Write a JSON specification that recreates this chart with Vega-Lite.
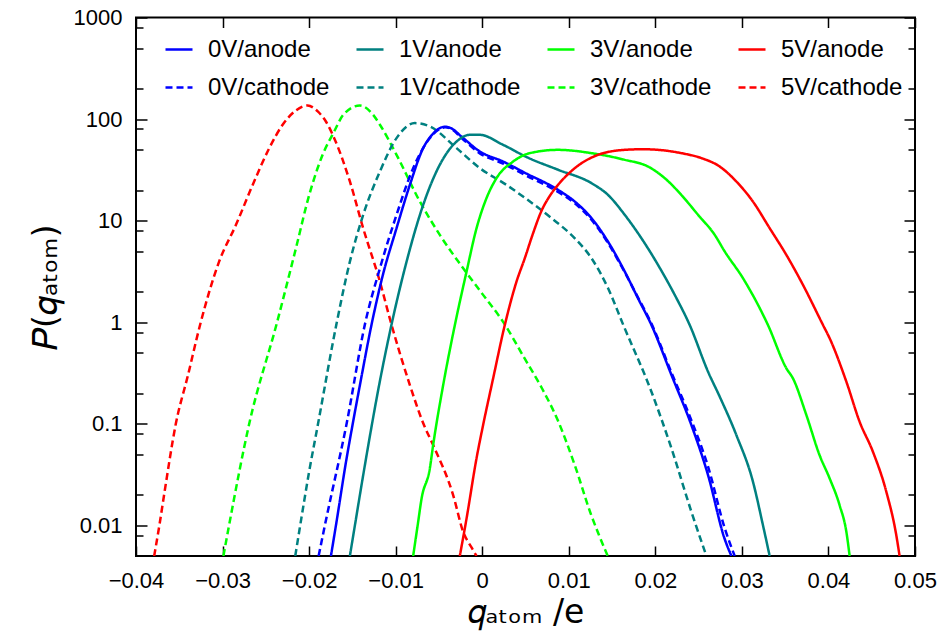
{
  "$schema": "https://vega.github.io/schema/vega-lite/v6.json",
  "autosize": {"type": "none"},
  "width": 779,
  "height": 538.5,
  "padding": {"left": 136, "top": 17.5, "right": 30, "bottom": 80},
  "background": "white",
  "config": {
    "view": {"stroke": "black", "strokeWidth": 2},
    "font": "Liberation Sans",
    "axis": {"grid": false, "domain": false, "labelFont": "Liberation Sans", "labelFontSize": 22, "labelColor": "black", "tickColor": "black", "tickWidth": 1.5, "titleFont": "DejaVu Sans", "titleColor": "black", "titleFontWeight": "normal", "labelFlush": false, "labelOverlap": false, "labelBound": false}
  },
  "datasets": {
    "curves": [
      {"series": "5V/cathode", "q": -0.0379, "P": 0.005},
      {"series": "5V/cathode", "q": -0.0373, "P": 0.01},
      {"series": "5V/cathode", "q": -0.0367, "P": 0.0214},
      {"series": "5V/cathode", "q": -0.0354, "P": 0.1},
      {"series": "5V/cathode", "q": -0.0340, "P": 0.3},
      {"series": "5V/cathode", "q": -0.0326, "P": 0.94},
      {"series": "5V/cathode", "q": -0.0304, "P": 3.95},
      {"series": "5V/cathode", "q": -0.02845, "P": 9.1},
      {"series": "5V/cathode", "q": -0.02652, "P": 22.5},
      {"series": "5V/cathode", "q": -0.0246, "P": 51.8},
      {"series": "5V/cathode", "q": -0.02306, "P": 87.9},
      {"series": "5V/cathode", "q": -0.0215, "P": 122},
      {"series": "5V/cathode", "q": -0.02017, "P": 136},
      {"series": "5V/cathode", "q": -0.0190, "P": 119},
      {"series": "5V/cathode", "q": -0.01806, "P": 94.7},
      {"series": "5V/cathode", "q": -0.0170, "P": 62},
      {"series": "5V/cathode", "q": -0.01529, "P": 24.3},
      {"series": "5V/cathode", "q": -0.01375, "P": 8.4},
      {"series": "5V/cathode", "q": -0.01182, "P": 2.51},
      {"series": "5V/cathode", "q": -0.01056, "P": 1.0},
      {"series": "5V/cathode", "q": -0.00836, "P": 0.241},
      {"series": "5V/cathode", "q": -0.00679, "P": 0.1},
      {"series": "5V/cathode", "q": -0.00567, "P": 0.0618},
      {"series": "5V/cathode", "q": -0.00336, "P": 0.0199},
      {"series": "5V/cathode", "q": -0.0022, "P": 0.00865},
      {"series": "5V/cathode", "q": -0.0012, "P": 0.006},
      {"series": "5V/cathode", "q": -0.00066, "P": 0.005},

      {"series": "3V/cathode", "q": -0.0299, "P": 0.005},
      {"series": "3V/cathode", "q": -0.02925, "P": 0.01},
      {"series": "3V/cathode", "q": -0.02692, "P": 0.1},
      {"series": "3V/cathode", "q": -0.0237, "P": 1.0},
      {"series": "3V/cathode", "q": -0.02152, "P": 5.36},
      {"series": "3V/cathode", "q": -0.01999, "P": 17.9},
      {"series": "3V/cathode", "q": -0.01844, "P": 44.5},
      {"series": "3V/cathode", "q": -0.0171, "P": 75.5},
      {"series": "3V/cathode", "q": -0.01606, "P": 110},
      {"series": "3V/cathode", "q": -0.01413, "P": 136},
      {"series": "3V/cathode", "q": -0.0126, "P": 110},
      {"series": "3V/cathode", "q": -0.01182, "P": 88},
      {"series": "3V/cathode", "q": -0.0099, "P": 44.5},
      {"series": "3V/cathode", "q": -0.0072, "P": 15.4},
      {"series": "3V/cathode", "q": -0.0049, "P": 7.25},
      {"series": "3V/cathode", "q": -0.0022, "P": 3.4},
      {"series": "3V/cathode", "q": 0.0001, "P": 1.86},
      {"series": "3V/cathode", "q": 0.00241, "P": 1.01},
      {"series": "3V/cathode", "q": 0.0049, "P": 0.44},
      {"series": "3V/cathode", "q": 0.0069, "P": 0.224},
      {"series": "3V/cathode", "q": 0.0088, "P": 0.105},
      {"series": "3V/cathode", "q": 0.0107, "P": 0.039},
      {"series": "3V/cathode", "q": 0.0126, "P": 0.0126},
      {"series": "3V/cathode", "q": 0.0135, "P": 0.008},
      {"series": "3V/cathode", "q": 0.0145, "P": 0.005},

      {"series": "1V/cathode", "q": -0.0216, "P": 0.005},
      {"series": "1V/cathode", "q": -0.02103, "P": 0.01},
      {"series": "1V/cathode", "q": -0.0200, "P": 0.0337},
      {"series": "1V/cathode", "q": -0.01897, "P": 0.1},
      {"series": "1V/cathode", "q": -0.0168, "P": 1.0},
      {"series": "1V/cathode", "q": -0.01529, "P": 3.95},
      {"series": "1V/cathode", "q": -0.01375, "P": 11.4},
      {"series": "1V/cathode", "q": -0.01182, "P": 30.5},
      {"series": "1V/cathode", "q": -0.0099, "P": 65},
      {"series": "1V/cathode", "q": -0.00778, "P": 91.3},
      {"series": "1V/cathode", "q": -0.00605, "P": 84.6},
      {"series": "1V/cathode", "q": -0.00297, "P": 51.8},
      {"series": "1V/cathode", "q": -0.00028, "P": 32.9},
      {"series": "1V/cathode", "q": 0.0028, "P": 22.5},
      {"series": "1V/cathode", "q": 0.0050, "P": 16.6},
      {"series": "1V/cathode", "q": 0.0080, "P": 10.6},
      {"series": "1V/cathode", "q": 0.0107, "P": 6.7},
      {"series": "1V/cathode", "q": 0.01262, "P": 4.27},
      {"series": "1V/cathode", "q": 0.01454, "P": 2.16},
      {"series": "1V/cathode", "q": 0.0163, "P": 0.94},
      {"series": "1V/cathode", "q": 0.01955, "P": 0.207},
      {"series": "1V/cathode", "q": 0.02186, "P": 0.0574},
      {"series": "1V/cathode", "q": 0.02417, "P": 0.0136},
      {"series": "1V/cathode", "q": 0.0259, "P": 0.005},

      {"series": "0V/anode", "q": -0.01748, "P": 0.005},
      {"series": "0V/anode", "q": -0.0169, "P": 0.01},
      {"series": "0V/anode", "q": -0.01567, "P": 0.0457},
      {"series": "0V/anode", "q": -0.01496, "P": 0.1},
      {"series": "0V/anode", "q": -0.01413, "P": 0.241},
      {"series": "0V/anode", "q": -0.01273, "P": 1.0},
      {"series": "0V/anode", "q": -0.01148, "P": 2.92},
      {"series": "0V/anode", "q": -0.0099, "P": 8.43},
      {"series": "0V/anode", "q": -0.00836, "P": 22.5},
      {"series": "0V/anode", "q": -0.00682, "P": 51.8},
      {"series": "0V/anode", "q": -0.0058, "P": 70},
      {"series": "0V/anode", "q": -0.0049, "P": 81.5},
      {"series": "0V/anode", "q": -0.0043, "P": 84},
      {"series": "0V/anode", "q": -0.0037, "P": 82},
      {"series": "0V/anode", "q": -0.0022, "P": 65},
      {"series": "0V/anode", "q": -0.00028, "P": 48},
      {"series": "0V/anode", "q": 0.00241, "P": 38.2},
      {"series": "0V/anode", "q": 0.0050, "P": 29.4},
      {"series": "0V/anode", "q": 0.00876, "P": 20.1},
      {"series": "0V/anode", "q": 0.0107, "P": 15.4},
      {"series": "0V/anode", "q": 0.01262, "P": 10.6},
      {"series": "0V/anode", "q": 0.01454, "P": 6.2},
      {"series": "0V/anode", "q": 0.01647, "P": 3.15},
      {"series": "0V/anode", "q": 0.018, "P": 1.72},
      {"series": "0V/anode", "q": 0.01955, "P": 0.94},
      {"series": "0V/anode", "q": 0.02186, "P": 0.303},
      {"series": "0V/anode", "q": 0.02417, "P": 0.097},
      {"series": "0V/anode", "q": 0.02609, "P": 0.0313},
      {"series": "0V/anode", "q": 0.028, "P": 0.0074},
      {"series": "0V/anode", "q": 0.02879, "P": 0.005},

      {"series": "0V/cathode", "q": -0.0189, "P": 0.005},
      {"series": "0V/cathode", "q": -0.01818, "P": 0.01},
      {"series": "0V/cathode", "q": -0.01567, "P": 0.1},
      {"series": "0V/cathode", "q": -0.0135, "P": 1.0},
      {"series": "0V/cathode", "q": -0.01182, "P": 3.4},
      {"series": "0V/cathode", "q": -0.0099, "P": 11.4},
      {"series": "0V/cathode", "q": -0.00798, "P": 32.9},
      {"series": "0V/cathode", "q": -0.00605, "P": 65},
      {"series": "0V/cathode", "q": -0.0051, "P": 78},
      {"series": "0V/cathode", "q": -0.0043, "P": 83},
      {"series": "0V/cathode", "q": -0.0037, "P": 81},
      {"series": "0V/cathode", "q": -0.0022, "P": 63},
      {"series": "0V/cathode", "q": -0.00028, "P": 46},
      {"series": "0V/cathode", "q": 0.00241, "P": 36.5},
      {"series": "0V/cathode", "q": 0.0050, "P": 28},
      {"series": "0V/cathode", "q": 0.00876, "P": 19.2},
      {"series": "0V/cathode", "q": 0.0107, "P": 14.8},
      {"series": "0V/cathode", "q": 0.01262, "P": 10.2},
      {"series": "0V/cathode", "q": 0.01454, "P": 6.0},
      {"series": "0V/cathode", "q": 0.01647, "P": 3.1},
      {"series": "0V/cathode", "q": 0.018, "P": 1.75},
      {"series": "0V/cathode", "q": 0.01955, "P": 0.97},
      {"series": "0V/cathode", "q": 0.02186, "P": 0.32},
      {"series": "0V/cathode", "q": 0.02417, "P": 0.108},
      {"series": "0V/cathode", "q": 0.02609, "P": 0.038},
      {"series": "0V/cathode", "q": 0.028, "P": 0.0095},
      {"series": "0V/cathode", "q": 0.02917, "P": 0.005},

      {"series": "1V/anode", "q": -0.01529, "P": 0.005},
      {"series": "1V/anode", "q": -0.01471, "P": 0.01},
      {"series": "1V/anode", "q": -0.01375, "P": 0.0313},
      {"series": "1V/anode", "q": -0.01273, "P": 0.1},
      {"series": "1V/anode", "q": -0.0122, "P": 0.178},
      {"series": "1V/anode", "q": -0.01042, "P": 1.0},
      {"series": "1V/anode", "q": -0.00874, "P": 3.95},
      {"series": "1V/anode", "q": -0.00682, "P": 14.3},
      {"series": "1V/anode", "q": -0.0049, "P": 35.5},
      {"series": "1V/anode", "q": -0.00297, "P": 60},
      {"series": "1V/anode", "q": -0.00143, "P": 70},
      {"series": "1V/anode", "q": -0.0003, "P": 70},
      {"series": "1V/anode", "q": 0.00241, "P": 55.8},
      {"series": "1V/anode", "q": 0.0052, "P": 42},
      {"series": "1V/anode", "q": 0.00876, "P": 31.7},
      {"series": "1V/anode", "q": 0.01262, "P": 23.4},
      {"series": "1V/anode", "q": 0.01454, "P": 17.9},
      {"series": "1V/anode", "q": 0.01647, "P": 11.4},
      {"series": "1V/anode", "q": 0.0184, "P": 6.7},
      {"series": "1V/anode", "q": 0.02031, "P": 3.67},
      {"series": "1V/anode", "q": 0.02224, "P": 1.86},
      {"series": "1V/anode", "q": 0.02397, "P": 0.94},
      {"series": "1V/anode", "q": 0.02609, "P": 0.326},
      {"series": "1V/anode", "q": 0.02744, "P": 0.185},
      {"series": "1V/anode", "q": 0.02936, "P": 0.0776},
      {"series": "1V/anode", "q": 0.03128, "P": 0.0269},
      {"series": "1V/anode", "q": 0.03244, "P": 0.01},
      {"series": "1V/anode", "q": 0.03321, "P": 0.005},

      {"series": "3V/anode", "q": -0.00798, "P": 0.005},
      {"series": "3V/anode", "q": -0.00746, "P": 0.01},
      {"series": "3V/anode", "q": -0.007, "P": 0.0185},
      {"series": "3V/anode", "q": -0.00605, "P": 0.0365},
      {"series": "3V/anode", "q": -0.00567, "P": 0.0618},
      {"series": "3V/anode", "q": -0.00451, "P": 0.241},
      {"series": "3V/anode", "q": -0.00316, "P": 0.94},
      {"series": "3V/anode", "q": -0.00181, "P": 3.15},
      {"series": "3V/anode", "q": -0.00066, "P": 8.4},
      {"series": "3V/anode", "q": 0.0005, "P": 16.7},
      {"series": "3V/anode", "q": 0.00165, "P": 26.2},
      {"series": "3V/anode", "q": 0.00357, "P": 38.2},
      {"series": "3V/anode", "q": 0.0055, "P": 46.2},
      {"series": "3V/anode", "q": 0.00876, "P": 49.8},
      {"series": "3V/anode", "q": 0.01262, "P": 46.2},
      {"series": "3V/anode", "q": 0.01647, "P": 39.7},
      {"series": "3V/anode", "q": 0.01916, "P": 34.1},
      {"series": "3V/anode", "q": 0.02109, "P": 26.2},
      {"series": "3V/anode", "q": 0.02301, "P": 17.9},
      {"series": "3V/anode", "q": 0.02494, "P": 11.4},
      {"series": "3V/anode", "q": 0.02686, "P": 7.25},
      {"series": "3V/anode", "q": 0.0280, "P": 5.0},
      {"series": "3V/anode", "q": 0.03013, "P": 2.71},
      {"series": "3V/anode", "q": 0.03301, "P": 0.94},
      {"series": "3V/anode", "q": 0.03514, "P": 0.352},
      {"series": "3V/anode", "q": 0.0359, "P": 0.28},
      {"series": "3V/anode", "q": 0.03745, "P": 0.122},
      {"series": "3V/anode", "q": 0.03898, "P": 0.049},
      {"series": "3V/anode", "q": 0.04014, "P": 0.029},
      {"series": "3V/anode", "q": 0.04129, "P": 0.0158},
      {"series": "3V/anode", "q": 0.04207, "P": 0.00865},
      {"series": "3V/anode", "q": 0.04245, "P": 0.005},

      {"series": "5V/anode", "q": -0.00259, "P": 0.005},
      {"series": "5V/anode", "q": -0.00181, "P": 0.0117},
      {"series": "5V/anode", "q": -0.00066, "P": 0.0457},
      {"series": "5V/anode", "q": 0.0001, "P": 0.097},
      {"series": "5V/anode", "q": 0.00126, "P": 0.28},
      {"series": "5V/anode", "q": 0.00261, "P": 0.94},
      {"series": "5V/anode", "q": 0.00396, "P": 2.51},
      {"series": "5V/anode", "q": 0.00492, "P": 4.27},
      {"series": "5V/anode", "q": 0.0058, "P": 7.2},
      {"series": "5V/anode", "q": 0.00685, "P": 12.5},
      {"series": "5V/anode", "q": 0.0078, "P": 17.5},
      {"series": "5V/anode", "q": 0.00876, "P": 22.5},
      {"series": "5V/anode", "q": 0.0107, "P": 32.9},
      {"series": "5V/anode", "q": 0.01339, "P": 44.5},
      {"series": "5V/anode", "q": 0.01647, "P": 49.8},
      {"series": "5V/anode", "q": 0.0185, "P": 50.5},
      {"series": "5V/anode", "q": 0.02031, "P": 49.8},
      {"series": "5V/anode", "q": 0.02301, "P": 46.2},
      {"series": "5V/anode", "q": 0.02532, "P": 41.3},
      {"series": "5V/anode", "q": 0.02744, "P": 34.1},
      {"series": "5V/anode", "q": 0.02936, "P": 24.3},
      {"series": "5V/anode", "q": 0.03128, "P": 15.4},
      {"series": "5V/anode", "q": 0.03321, "P": 8.43},
      {"series": "5V/anode", "q": 0.03514, "P": 4.6},
      {"series": "5V/anode", "q": 0.03706, "P": 2.33},
      {"series": "5V/anode", "q": 0.03937, "P": 0.94},
      {"series": "5V/anode", "q": 0.04014, "P": 0.695},
      {"series": "5V/anode", "q": 0.04207, "P": 0.26},
      {"series": "5V/anode", "q": 0.0436, "P": 0.105},
      {"series": "5V/anode", "q": 0.04514, "P": 0.0531},
      {"series": "5V/anode", "q": 0.04669, "P": 0.0214},
      {"series": "5V/anode", "q": 0.04784, "P": 0.008},
      {"series": "5V/anode", "q": 0.04822, "P": 0.005}
    ],
    "anchor": [{"q": 0, "P": 1}]
  },
  "layer": [
    {
      "data": {"name": "curves"},
      "mark": {"type": "line", "strokeWidth": 2.5, "clip": true, "interpolate": "monotone"},
      "encoding": {
        "x": {
          "field": "q", "type": "quantitative",
          "scale": {"domain": [-0.04, 0.05], "nice": false, "zero": false},
          "axis": {"orient": "bottom", "values": [-0.04, -0.03, -0.02, -0.01, 0, 0.01, 0.02, 0.03, 0.04, 0.05], "format": "~g", "tickSize": -10, "labelPadding": 24, "title": "𝑞ₐₜₒₘ /e", "titleFontSize": 33, "titlePadding": 5}
        },
        "y": {
          "field": "P", "type": "quantitative",
          "scale": {"type": "log", "domain": [0.005, 1000], "nice": false},
          "axis": {"orient": "left", "values": [0.01, 0.1, 1, 10, 100, 1000], "format": "~g", "tickSize": -11, "labelPadding": 25, "title": "𝑃(𝑞ₐₜₒₘ)", "titleFontSize": 34, "titlePadding": 10}
        },
        "color": {
          "field": "series", "type": "nominal",
          "scale": {
            "domain": ["0V/anode", "0V/cathode", "1V/anode", "1V/cathode", "3V/anode", "3V/cathode", "5V/anode", "5V/cathode"],
            "range": ["#0000ff", "#0000ff", "#008080", "#008080", "#00ff00", "#00ff00", "#ff0000", "#ff0000"]
          },
          "legend": {"orient": "none", "legendX": 28, "legendY": 17, "columns": 4, "title": null, "labelFont": "Liberation Sans", "labelFontSize": 24, "labelColor": "black", "symbolType": "stroke", "symbolSize": 729, "symbolStrokeWidth": 2.5, "labelOffset": 14, "columnPadding": 21, "rowPadding": 11, "padding": 0}
        },
        "strokeDash": {
          "field": "series", "type": "nominal",
          "scale": {
            "domain": ["0V/anode", "0V/cathode", "1V/anode", "1V/cathode", "3V/anode", "3V/cathode", "5V/anode", "5V/cathode"],
            "range": [[1, 0], [7, 4], [1, 0], [7, 4], [1, 0], [7, 4], [1, 0], [7, 4]]
          },
          "legend": {"orient": "none", "legendX": 28, "legendY": 17, "columns": 4, "title": null, "labelFont": "Liberation Sans", "labelFontSize": 24, "labelColor": "black", "symbolType": "stroke", "symbolSize": 729, "symbolStrokeWidth": 2.5, "labelOffset": 14, "columnPadding": 21, "rowPadding": 11, "padding": 0}
        }
      }
    },
    {
      "data": {"name": "anchor"},
      "mark": {"type": "point", "opacity": 0},
      "encoding": {
        "x": {"field": "q", "type": "quantitative", "scale": {"domain": [-0.04, 0.05], "nice": false, "zero": false},
          "axis": {"orient": "top", "values": [-0.04, -0.03, -0.02, -0.01, 0, 0.01, 0.02, 0.03, 0.04, 0.05], "labels": false, "tickSize": -10, "title": null}},
        "y": {"field": "P", "type": "quantitative", "scale": {"type": "log", "domain": [0.005, 1000], "nice": false},
          "axis": {"orient": "right", "values": [0.01, 0.1, 1, 10, 100, 1000], "labels": false, "tickSize": -11, "title": null}}
      }
    },
    {
      "data": {"name": "anchor"},
      "mark": {"type": "point", "opacity": 0},
      "encoding": {
        "y": {"field": "P", "type": "quantitative", "scale": {"type": "log", "domain": [0.005, 1000], "nice": false},
          "axis": {"orient": "left", "values": [0.008, 0.02, 0.05, 0.08, 0.2, 0.5, 0.8, 2, 5, 8, 20, 50, 80, 200, 500, 800], "labels": false, "tickSize": -7, "title": null}}
      }
    },
    {
      "data": {"name": "anchor"},
      "mark": {"type": "point", "opacity": 0},
      "encoding": {
        "y": {"field": "P", "type": "quantitative", "scale": {"type": "log", "domain": [0.005, 1000], "nice": false},
          "axis": {"orient": "right", "values": [0.008, 0.02, 0.05, 0.08, 0.2, 0.5, 0.8, 2, 5, 8, 20, 50, 80, 200, 500, 800], "labels": false, "tickSize": -7, "title": null}}
      }
    }
  ],
  "resolve": {"axis": {"x": "independent", "y": "independent"}}
}
